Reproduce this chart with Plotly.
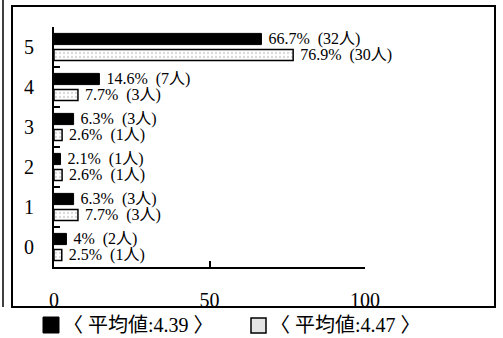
import plotly.graph_objects as go

categories = ["0", "1", "2", "3", "4", "5"]
pct_a = [4, 6.3, 2.1, 6.3, 14.6, 66.7]
cnt_a = [2, 3, 1, 3, 7, 32]
pct_b = [2.5, 7.7, 2.6, 2.6, 7.7, 76.9]
cnt_b = [1, 3, 1, 1, 3, 30]
x_ticks = [0, 50, 100]
legend_a = "〈 平均値:4.39 〉"
legend_b = "〈 平均値:4.47 〉"

FONT = "Liberation Serif, Noto Sans CJK JP, serif"

def lbl(p, c):
    return f" {p:g}%  ({c}人)"

fig = go.Figure()
# white (patterned) series first so it sits below the black one in each group
fig.add_trace(go.Bar(
    y=categories, x=pct_b, orientation="h",
    text=[lbl(p, c) for p, c in zip(pct_b, cnt_b)],
    textposition="outside", cliponaxis=False, constraintext="none",
    textfont=dict(family=FONT, size=16, color="black"),
    marker=dict(color="white", line=dict(color="black", width=1.5),
                pattern=dict(shape=".", fgcolor="#b0b0b0", bgcolor="white", size=4, solidity=0.25)),
    showlegend=False,
))
fig.add_trace(go.Bar(
    y=categories, x=pct_a, orientation="h",
    text=[lbl(p, c) for p, c in zip(pct_a, cnt_a)],
    textposition="outside", cliponaxis=False, constraintext="none",
    textfont=dict(family=FONT, size=16, color="black"),
    marker=dict(color="black", line=dict(color="black", width=1)),
    showlegend=False,
))

# pixel -> paper helpers (plot area x 54..365, y 27..267)
L, R, T, B = 54, 365, 27, 267
def px(x):
    return (x - L) / (R - L)
def py(y):
    return (B - y) / (B - T)

FT, FB, FL, FR = 6, 307, 12, 495
shapes = [
    # outer frame
    dict(type="path", xref="paper", yref="paper",
         path=f"M {px(FL)} {py(FT)} L {px(FR)} {py(FT)} L {px(FR)} {py(FB)} L {px(FL)} {py(FB)} Z",
         line=dict(color="black", width=2)),
    # scan edge line at far left
    dict(type="line", xref="paper", yref="paper", x0=px(3), x1=px(3), y0=py(307), y1=py(0),
         line=dict(color="black", width=1.5)),
    # legend squares
    dict(type="rect", xref="paper", yref="paper", x0=px(43), x1=px(59), y0=py(333), y1=py(317),
         fillcolor="black", line=dict(color="black", width=1)),
    dict(type="rect", xref="paper", yref="paper", x0=px(251), x1=px(266), y0=py(333), y1=py(318),
         fillcolor="#e4e4e4", line=dict(color="black", width=1.5)),
]
annotations = [
    dict(xref="paper", yref="paper", x=px(61), y=py(325), text=legend_a, showarrow=False,
         xanchor="left", yanchor="middle", font=dict(family=FONT, size=20, color="black")),
    dict(xref="paper", yref="paper", x=px(268), y=py(325), text=legend_b, showarrow=False,
         xanchor="left", yanchor="middle", font=dict(family=FONT, size=20, color="black")),
]

fig.update_layout(
    width=503, height=338,
    margin=dict(l=L, r=503 - R, t=T, b=338 - B),
    paper_bgcolor="white", plot_bgcolor="white",
    barmode="group", bargap=0.2, bargroupgap=0.3,
    shapes=shapes, annotations=annotations,
    xaxis=dict(range=[0, 100], tickvals=x_ticks, ticks="inside", ticklen=6, tickwidth=2,
               tickcolor="black", showline=True, linecolor="black", linewidth=2,
               showgrid=False, zeroline=False, ticklabelstandoff=14,
               tickfont=dict(family=FONT, size=20, color="black")),
    yaxis=dict(type="category", categoryorder="array", categoryarray=categories,
               range=[-0.5, 5.5], tickson="boundaries", ticks="inside", ticklen=6, tickwidth=2,
               tickcolor="black", showline=True, linecolor="black", linewidth=2,
               showgrid=False, ticklabelstandoff=14,
               tickfont=dict(family=FONT, size=20, color="black")),
)

fig.write_html("out.html", config={"displayModeBar": False},
               post_script="document.body.style.margin='0';")
